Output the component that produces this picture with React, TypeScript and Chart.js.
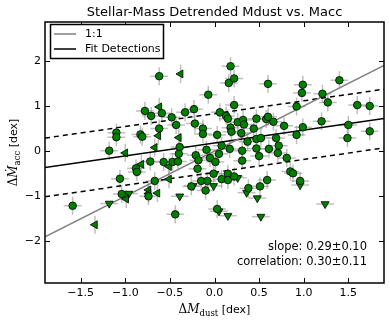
import React, { useEffect, useRef } from 'react';
import { Chart, registerables } from 'chart.js';
Chart.register(...registerables);

// Detections (circles)
const detX = [-1.59,-1.18,-1.10,-1.10,-1.06,-1.04,-0.88,-0.87,-0.83,-0.81,-0.78,-0.71,-0.74,-0.72,-0.67,-0.62,-0.62,-0.59,-0.57,-0.48,-0.47,-0.44,-0.43,-0.39,-0.40,-0.41,-0.33,-0.26,-0.23,-0.22,-0.21,-0.18,-0.19,-0.15,-0.13,-0.13,-0.10,-0.09,-0.05,-0.08,-0.07,0.01,-0.01,0.03,0.05,0.03,0.06,0.08,0.08,0.13,0.15,0.15,0.15,0.16,0.17,0.18,0.18,0.19,0.22,0.22,0.22,0.26,0.30,0.31,0.31,0.32,0.33,0.37,0.38,0.44,0.47,0.47,0.52,0.47,0.50,0.51,0.58,0.59,0.60,0.60,0.61,0.66,0.69,0.72,0.71,0.78,0.81,0.85,0.88,0.92,0.92,0.96,0.98,0.99,0.99,1.20,1.21,1.27,1.40,1.49,1.50,1.60,1.74,1.74];
const detY = [-1.21,0.01,0.41,0.31,-0.61,-0.95,-0.38,-0.46,0.37,0.32,0.89,0.78,-1.00,-0.23,-0.66,1.66,0.50,0.84,-0.24,0.75,-0.24,-1.40,0.58,0.09,-0.06,-0.23,0.86,-0.78,0.93,0.61,-0.09,-0.20,-0.39,-0.66,0.50,0.38,-0.87,0.03,-0.15,-0.66,1.25,-0.24,-0.50,0.36,-0.06,-1.28,0.86,0.12,-0.62,0.78,0.72,-0.50,-0.64,1.51,0.05,1.88,0.52,0.43,1.61,1.02,-0.56,0.64,0.40,0.01,-0.21,0.69,0.59,0.21,-0.82,0.50,0.72,0.27,0.29,0.06,-0.11,-0.78,0.71,-0.64,1.49,0.76,0.05,0.65,0.29,0.12,-0.04,0.56,-0.15,-0.45,-0.49,0.99,0.36,-0.66,1.29,1.47,0.53,0.66,1.27,1.08,1.57,0.29,0.58,1.02,1.00,0.44];

// Upper limits in x (left-pointing triangles)
const xLimX = [-1.34,-1.00,-0.99,-0.82,-0.74,-0.74,-0.64,-0.67,-0.63,-0.62,-0.51,-0.51,-0.40,-0.38];
const xLimY = [-1.63,-0.04,-1.06,-0.29,-0.86,-0.94,-0.93,0.08,0.34,0.98,-0.34,-0.62,0.30,1.71];

// Upper limits in y (down-pointing triangles)
const yLimX = [-1.18,-0.96,-0.39,-0.24,-0.01,0.05,0.15,0.26,0.36,0.48,0.52,0.96,1.24];
const yLimY = [-1.16,-0.94,-1.00,-0.77,-0.77,-1.33,-1.43,-0.59,-0.92,-1.04,-1.45,-0.75,-1.17];

const X_ERR = 0.1;
const Y_ERR = 0.2;

const FIT_SLOPE = 0.285;
const FIT_INTERCEPT = 0.18;
const FIT_SCATTER = 0.65;

const X_RANGE = [-1.9, 1.9];
const Y_RANGE = [-2.92, 2.86];
const xTicks = [-1.5, -1.0, -0.5, 0.0, 0.5, 1.0, 1.5];
const yTicks = [-2, -1, 0, 1, 2];

const TITLE = 'Stellar-Mass Detrended Mdust vs. Macc';
const legendLabels = ['1:1', 'Fit Detections'];
const annotations = ['slope: 0.29\u00b10.10', 'correlation: 0.30\u00b10.11'];

const SANS = '"DejaVu Sans", sans-serif';
const SERIF = '"DejaVu Serif", serif';

const fmtX = (v: number) => (v < 0 ? '\u2212' : '') + Math.abs(v).toFixed(1);
const fmtY = (v: number) => (v < 0 ? '\u2212' : '') + Math.abs(v).toFixed(0);

type Seg = { t: string; font: string; dy: number };

function drawSegs(ctx: CanvasRenderingContext2D, segs: Seg[], cx: number, cy: number) {
  let total = 0;
  for (const s of segs) { ctx.font = s.font; total += ctx.measureText(s.t).width; }
  let x = cx - total / 2;
  ctx.textAlign = 'left';
  ctx.textBaseline = 'alphabetic';
  for (const s of segs) {
    ctx.font = s.font;
    ctx.fillText(s.t, x, cy + s.dy);
    x += ctx.measureText(s.t).width;
  }
}

const decorPlugin = {
  id: 'decor',
  beforeDatasetsDraw(chart: any) {
    const ctx = chart.ctx as CanvasRenderingContext2D;
    const xs = chart.scales.x, ys = chart.scales.y;
    const a = chart.chartArea;
    ctx.save();
    ctx.beginPath();
    ctx.rect(a.left, a.top, a.right - a.left, a.bottom - a.top);
    ctx.clip();
    ctx.strokeStyle = 'rgba(150,150,150,0.6)';
    ctx.lineWidth = 1.5;
    const bar = (x: number, y: number, ex: number, ey: number) => {
      const px = xs.getPixelForValue(x), py = ys.getPixelForValue(y);
      ctx.beginPath();
      if (ex > 0) {
        ctx.moveTo(xs.getPixelForValue(x - ex), py);
        ctx.lineTo(xs.getPixelForValue(x + ex), py);
      }
      if (ey > 0) {
        ctx.moveTo(px, ys.getPixelForValue(y - ey));
        ctx.lineTo(px, ys.getPixelForValue(y + ey));
      }
      ctx.stroke();
    };
    detX.forEach((x, i) => bar(x, detY[i], X_ERR, Y_ERR));
    xLimX.forEach((x, i) => bar(x, xLimY[i], 0, Y_ERR));
    yLimX.forEach((x, i) => bar(x, yLimY[i], X_ERR, 0));
    ctx.restore();
  },
  afterDraw(chart: any) {
    const ctx = chart.ctx as CanvasRenderingContext2D;
    const xs = chart.scales.x, ys = chart.scales.y;
    const a = chart.chartArea;
    ctx.save();
    // frame
    ctx.strokeStyle = '#000';
    ctx.lineWidth = 1.5;
    ctx.strokeRect(a.left, a.top, a.right - a.left, a.bottom - a.top);
    // inward ticks on all sides
    ctx.lineWidth = 1;
    const TL = 5;
    ctx.beginPath();
    for (const v of xTicks) {
      const p = Math.round(xs.getPixelForValue(v)) + 0.5;
      ctx.moveTo(p, a.bottom); ctx.lineTo(p, a.bottom - TL);
      ctx.moveTo(p, a.top); ctx.lineTo(p, a.top + TL);
    }
    for (const v of yTicks) {
      const p = Math.round(ys.getPixelForValue(v)) + 0.5;
      ctx.moveTo(a.left, p); ctx.lineTo(a.left + TL, p);
      ctx.moveTo(a.right, p); ctx.lineTo(a.right - TL, p);
    }
    ctx.stroke();
    // tick labels
    ctx.fillStyle = '#000';
    ctx.font = `11px ${SANS}`;
    ctx.textAlign = 'center';
    ctx.textBaseline = 'top';
    for (const v of xTicks) ctx.fillText(fmtX(v), xs.getPixelForValue(v), a.bottom + 5);
    ctx.textAlign = 'right';
    ctx.textBaseline = 'middle';
    for (const v of yTicks) ctx.fillText(fmtY(v), a.left - 4, ys.getPixelForValue(v));
    // title
    ctx.font = `13px ${SANS}`;
    ctx.textAlign = 'center';
    ctx.textBaseline = 'alphabetic';
    ctx.fillText(TITLE, (a.left + a.right) / 2, 16);
    // x label
    drawSegs(ctx, [
      { t: '\u0394', font: `12px ${SERIF}`, dy: 0 },
      { t: 'M', font: `italic 12px ${SERIF}`, dy: 0 },
      { t: 'dust', font: `8.5px ${SERIF}`, dy: 2.5 },
      { t: ' [dex]', font: `11px ${SANS}`, dy: 0 },
    ], (a.left + a.right) / 2, 313);
    // y label
    ctx.save();
    ctx.translate(17, (a.top + a.bottom) / 2);
    ctx.rotate(-Math.PI / 2);
    drawSegs(ctx, [
      { t: '\u0394', font: `12px ${SERIF}`, dy: 0 },
      { t: '\u1E40', font: `italic 12px ${SERIF}`, dy: 0 },
      { t: 'acc', font: `8.5px ${SERIF}`, dy: 2.5 },
      { t: ' [dex]', font: `11px ${SANS}`, dy: 0 },
    ], 0, 0);
    ctx.restore();
    // annotations
    ctx.font = `11.5px ${SANS}`;
    ctx.textAlign = 'right';
    ctx.textBaseline = 'middle';
    ctx.fillText(annotations[0], 367, 247);
    ctx.fillText(annotations[1], 367, 262);
    // legend
    const lx = 50.5, ly = 24.5, lw = 113, lh = 34;
    ctx.fillStyle = '#fff';
    ctx.fillRect(lx, ly, lw, lh);
    ctx.strokeStyle = '#000';
    ctx.lineWidth = 1.5;
    ctx.strokeRect(lx, ly, lw, lh);
    const colors = ['#808080', '#000000'];
    const rows = [34, 49];
    rows.forEach((ry, i) => {
      ctx.strokeStyle = colors[i];
      ctx.lineWidth = 1.5;
      ctx.beginPath();
      ctx.moveTo(54, ry); ctx.lineTo(76, ry);
      ctx.stroke();
      ctx.fillStyle = '#000';
      ctx.font = `11px ${SANS}`;
      ctx.textAlign = 'left';
      ctx.textBaseline = 'middle';
      ctx.fillText(legendLabels[i], 85, ry + 0.5);
    });
    ctx.restore();
  },
};

export default function App() {
  const ref = useRef<HTMLCanvasElement | null>(null);
  useEffect(() => {
    document.body.style.margin = '0';
    const canvas = ref.current!;
    const fit = (x: number) => FIT_SLOPE * x + FIT_INTERCEPT;
    const [x0, x1] = X_RANGE;
    const chart = new Chart(canvas, {
      type: 'scatter',
      data: {
        datasets: [
          {
            label: 'det',
            data: detX.map((x, i) => ({ x, y: detY[i] })),
            pointStyle: 'circle',
            pointRadius: 3.8,
            backgroundColor: '#008000',
            borderColor: '#000',
            borderWidth: 0.8,
            order: 0,
          },
          {
            label: 'xlim',
            data: xLimX.map((x, i) => ({ x, y: xLimY[i] })),
            pointStyle: 'triangle',
            rotation: -90,
            pointRadius: 4.6,
            backgroundColor: '#008000',
            borderColor: '#000',
            borderWidth: 0.8,
            order: 0,
          },
          {
            label: 'ylim',
            data: yLimX.map((x, i) => ({ x, y: yLimY[i] })),
            pointStyle: 'triangle',
            rotation: 180,
            pointRadius: 4.6,
            backgroundColor: '#008000',
            borderColor: '#000',
            borderWidth: 0.8,
            order: 0,
          },
          {
            type: 'line',
            label: '1:1',
            data: [{ x: x0, y: x0 }, { x: x1, y: x1 }],
            borderColor: '#808080',
            borderWidth: 1.5,
            pointRadius: 0,
            showLine: true,
            order: 1,
          },
          {
            type: 'line',
            label: 'Fit Detections',
            data: [{ x: x0, y: fit(x0) }, { x: x1, y: fit(x1) }],
            borderColor: '#000',
            borderWidth: 1.5,
            pointRadius: 0,
            showLine: true,
            order: 1,
          },
          {
            type: 'line',
            label: 'upper',
            data: [{ x: x0, y: fit(x0) + FIT_SCATTER }, { x: x1, y: fit(x1) + FIT_SCATTER }],
            borderColor: '#000',
            borderWidth: 1.5,
            borderDash: [5, 4],
            pointRadius: 0,
            showLine: true,
            order: 1,
          },
          {
            type: 'line',
            label: 'lower',
            data: [{ x: x0, y: fit(x0) - FIT_SCATTER }, { x: x1, y: fit(x1) - FIT_SCATTER }],
            borderColor: '#000',
            borderWidth: 1.5,
            borderDash: [5, 4],
            pointRadius: 0,
            showLine: true,
            order: 1,
          },
        ] as any,
      },
      options: {
        animation: false,
        responsive: false,
        devicePixelRatio: 1,
        layout: { padding: { left: 45, right: 6, top: 22, bottom: 38 } },
        plugins: { legend: { display: false }, tooltip: { enabled: false }, title: { display: false } },
        scales: {
          x: { type: 'linear', min: X_RANGE[0], max: X_RANGE[1], display: false },
          y: { type: 'linear', min: Y_RANGE[0], max: Y_RANGE[1], display: false },
        },
      },
      plugins: [decorPlugin],
    });
    return () => chart.destroy();
  }, []);
  return <canvas ref={ref} width={390} height={321} style={{ display: 'block' }} />;
}
